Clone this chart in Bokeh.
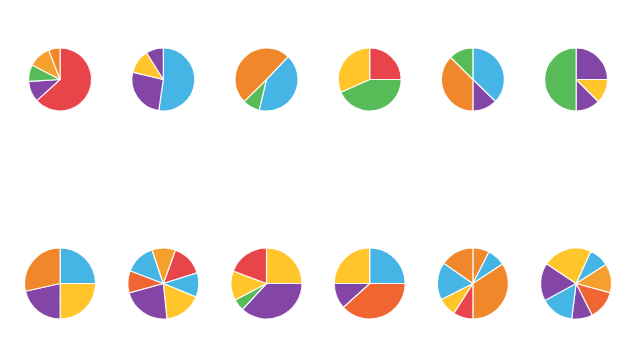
import math
from bokeh.plotting import figure
from bokeh.models import Range1d, ColumnDataSource
from bokeh.embed import file_html
from bokeh.resources import INLINE

# Palette
RED = "#E8454B"
ORANGE = "#F0882B"
LORANGE = "#F5A02E"
GREEN = "#57BB57"
PURPLE = "#8446A6"
BLUE = "#45B5E6"
YELLOW = "#FFC52B"
ORED = "#F06632"

# Row 1 pies (values in %, clockwise from start bearing)
p1_values = [63.3, 10.8, 8.5, 11.5, 5.9]
p1_colors = [RED, PURPLE, GREEN, LORANGE, ORANGE]
p2_values = [52.3, 26.5, 12.3, 8.9]
p2_colors = [BLUE, PURPLE, YELLOW, PURPLE]
p3_values = [41.7, 8.9, 49.4]
p3_colors = [BLUE, GREEN, ORANGE]
p4_values = [25.0, 43.4, 31.6]
p4_colors = [RED, GREEN, YELLOW]
p5_values = [37.3, 12.7, 37.5, 12.5]
p5_colors = [BLUE, PURPLE, ORANGE, GREEN]
p6_values = [25.0, 12.5, 12.5, 50.0]
p6_colors = [PURPLE, YELLOW, PURPLE, GREEN]

# Row 2 pies
q1_values = [25.0, 25.0, 21.5, 28.5]
q1_colors = [BLUE, YELLOW, PURPLE, ORANGE]
q2_values = [14.6, 11.1, 17.1, 22.4, 10.1, 14.0, 10.7]
q2_colors = [RED, BLUE, YELLOW, PURPLE, ORED, BLUE, LORANGE]
q3_values = [25.0, 36.9, 5.4, 13.4, 19.3]
q3_colors = [YELLOW, PURPLE, GREEN, YELLOW, RED]
q4_values = [25.0, 38.3, 11.7, 25.0]
q4_colors = [BLUE, ORED, PURPLE, YELLOW]
q5_values = [7.5, 8.3, 34.2, 9.1, 8.5, 17.1, 15.3]
q5_colors = [ORANGE, BLUE, ORANGE, RED, YELLOW, BLUE, ORANGE]
q6_values = [9.2, 13.3, 13.3, 9.4, 15.1, 17.3, 22.4]
q6_colors = [BLUE, LORANGE, ORED, PURPLE, BLUE, PURPLE, YELLOW]

# start bearing (degrees clockwise from 12 o'clock)
row1_starts = [0, 0, 43.3, 0, 0, 0]
row2_starts = [0, 20, 0, 0, 0, 24.4]

rows = [
    ([(p1_values, p1_colors), (p2_values, p2_colors), (p3_values, p3_colors),
      (p4_values, p4_colors), (p5_values, p5_colors), (p6_values, p6_colors)], row1_starts),
    ([(q1_values, q1_colors), (q2_values, q2_colors), (q3_values, q3_colors),
      (q4_values, q4_colors), (q5_values, q5_colors), (q6_values, q6_colors)], row2_starts),
]

W, H = 623, 344
p = figure(width=W, height=H, output_backend="svg", toolbar_location=None,
           x_range=Range1d(0, W), y_range=Range1d(0, H),
           min_border=0, match_aspect=False)
p.axis.visible = False
p.grid.visible = False
p.outline_line_color = None
p.background_fill_color = "white"
p.border_fill_color = "white"

col_w = 103.2
row_y_screen = [79, 283]
row_r = [31.5, 35.5]

xs, ys, rs, sa, ea, cols = [], [], [], [], [], []
for ri, (pies, starts) in enumerate(rows):
    cy = H - row_y_screen[ri]
    for ci, (vals, colors) in enumerate(pies):
        cx = 8 + col_w * (ci + 0.5)
        tot = sum(vals)
        b = starts[ci]
        for v, c in zip(vals, colors):
            b2 = b + 360.0 * v / tot
            xs.append(cx); ys.append(cy); rs.append(row_r[ri])
            sa.append(math.radians(90 - b)); ea.append(math.radians(90 - b2))
            cols.append(c)
            b = b2

src = ColumnDataSource(dict(x=xs, y=ys, r=rs, sa=sa, ea=ea, c=cols))
p.wedge(x="x", y="y", radius="r", start_angle="sa", end_angle="ea",
        direction="clock", fill_color="c", line_color="white",
        line_width=1.2, line_alpha=0.9, source=src)

open("out.html", "w").write(file_html(p, INLINE))
